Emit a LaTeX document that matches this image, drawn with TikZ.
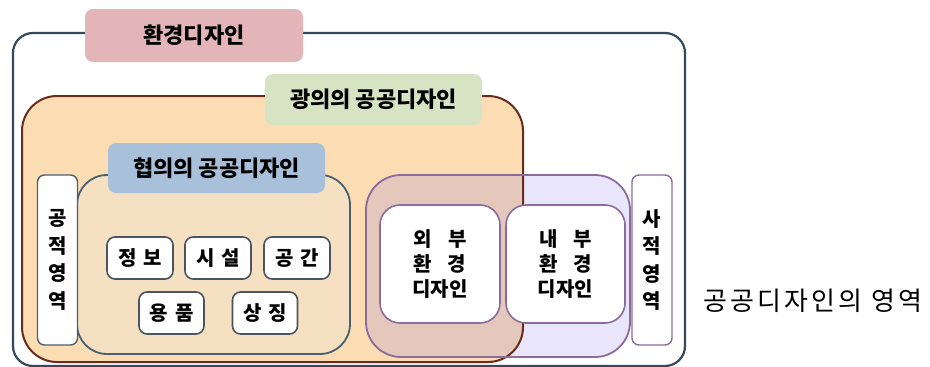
\documentclass[tikz,border=0pt]{standalone}
\usepackage{fontspec}
\newfontfamily\kr{Noto Sans CJK KR}[LetterSpace=12]
\newfontfamily\krb{Noto Sans CJK KR}
\definecolor{outerline}{HTML}{34495E}
\definecolor{orangefill}{HTML}{FCDDB3}
\definecolor{orangeline}{HTML}{6B2A1E}
\definecolor{tanfill}{HTML}{F5E0C2}
\definecolor{tanline}{HTML}{4A6070}
\definecolor{purplefill}{HTML}{E9E5FA}
\definecolor{overlapfill}{HTML}{E4C8BC}
\definecolor{purpleline}{HTML}{8B6A9C}
\definecolor{pinkfill}{HTML}{E4B5B8}
\definecolor{greenfill}{HTML}{D7E4C4}
\definecolor{bluefill}{HTML}{A8C0DA}
\definecolor{boxline}{HTML}{4A5560}
\begin{document}
\begin{tikzpicture}[x=1pt,y=-1pt,
  base/.style={rectangle,outer sep=0pt,inner sep=0pt,anchor=center},
  region/.style={base,minimum width=#1},
  labelbox/.style={base,rounded corners=8pt,font=\krb\bfseries\fontsize{22}{25}\selectfont},
  itembox/.style={base,draw=boxline,line width=1.6pt,fill=white,rounded corners=8pt,
     minimum width=66pt,minimum height=42pt,font=\krb\bfseries\fontsize{20}{23}\selectfont},
  sidebox/.style={base,line width=1.4pt,fill=white,rounded corners=7pt,
     minimum width=40pt,minimum height=170pt,align=center,
     font=\krb\bfseries\fontsize{20}{27.5}\selectfont},
  envbox/.style={base,draw=purpleline,line width=1.6pt,fill=white,rounded corners=20pt,
     minimum height=118pt,align=center,font=\krb\bfseries\fontsize{20}{25}\selectfont}
]
\useasboundingbox (0,0) rectangle (930,367);
% outer region
\node[region=672pt,minimum height=333pt,draw=outerline,line width=2.2pt,fill=white,rounded corners=20pt] (outer) at (349,199.5) {};
% broad public design region (fill)
\node[region=501pt,minimum height=266pt,fill=orangefill,rounded corners=35pt] (orange) at (272.5,229) {};
% narrow public design region
\node[region=273pt,minimum height=179pt,fill=tanfill,draw=tanline,line width=1.8pt,rounded corners=30pt] (tan) at (213.5,264.5) {};
\node[sidebox,draw=tanline] (gong) at (57.5,260) {공\\적\\영\\역};
% environment region (fill)
\node[region=264pt,minimum height=182pt,fill=purplefill,rounded corners=35pt] (purple) at (498,266) {};
\begin{scope}
  \clip[rounded corners=35pt] (orange.south west) rectangle (orange.north east);
  \fill[overlapfill,rounded corners=35pt] (purple.south west) rectangle (purple.north east);
\end{scope}
\draw[orangeline,line width=2pt,rounded corners=35pt] (orange.south west) rectangle (orange.north east);
\draw[purpleline,line width=1.8pt,rounded corners=35pt] (purple.south west) rectangle (purple.north east);
% environment design boxes
\node[envbox,minimum width=120pt] (oebu) at (440,264) {외\hspace{0.8em}부\\환\hspace{0.8em}경\\디자인};
\node[envbox,minimum width=119pt] (naebu) at (565.5,264) {내\hspace{0.8em}부\\환\hspace{0.8em}경\\디자인};
\node[sidebox,draw=purpleline] (sajeok) at (652,260) {사\\적\\영\\역};
% items
\node[itembox] (jeongbo) at (140,258) {정\hspace{0.35em}보};
\node[itembox] (siseol) at (218,258) {시\hspace{0.35em}설};
\node[itembox] (gonggan) at (297,258) {공\hspace{0.35em}간};
\node[itembox,minimum width=65pt] (yongpum) at (171.5,313) {용\hspace{0.35em}품};
\node[itembox,minimum width=65pt] (sangjing) at (265,313) {상\hspace{0.35em}징};
% labels
\node[labelbox,fill=pinkfill,minimum width=218pt,minimum height=53pt] (pink) at (194,35.5) {환경디자인};
\node[labelbox,fill=greenfill,minimum width=217pt,minimum height=51pt] (green) at (373.5,99.5) {광의의 공공디자인};
\node[labelbox,fill=bluefill,minimum width=217pt,minimum height=50pt] (blue) at (216.5,168) {협의의 공공디자인};
% caption
\node[base,font=\kr\fontsize{26}{29}\selectfont] (caption) at (813,301) {공공디자인의 영역};
\end{tikzpicture}
\end{document}
